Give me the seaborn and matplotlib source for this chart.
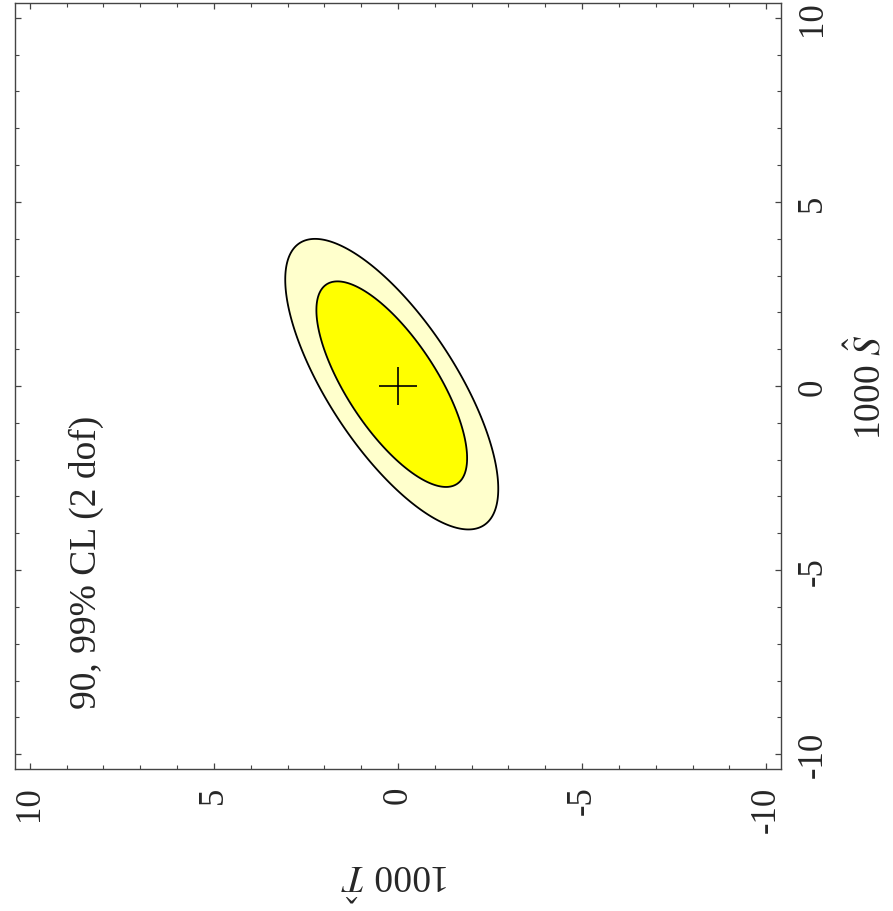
import numpy as np
import matplotlib
matplotlib.use("Agg")
import matplotlib.pyplot as plt
import seaborn as sns

# ---- data ----
dchi2_levels = [4.61, 9.21]          # 90%, 99% CL for 2 dof
fill_colors = ["#FFFF00", "#FFFFCC"]
ellipse_center = [0.17, 0.05]        # [T, S] in units of 1e-3
ellipse_sigma = [0.953, 1.30]        # [sigma_T, sigma_S]
ellipse_rho = 0.72
best_fit = [0.0, 0.0]                # [T, S]
tick_values = [-10, -5, 0, 5, 10]
axis_limit = 10.4
annotation = "90, 99% CL (2 dof)"

sns.set_theme(style="white")
plt.rcParams["font.family"] = ["Liberation Serif", "DejaVu Serif"]
plt.rcParams["mathtext.fontset"] = "stix"

fig = plt.figure(figsize=(8.93, 9.12), dpi=100)
ax = fig.add_axes([0.0168, 0.1557, 0.8578, 0.8399])

# grid in (T, S); displayed rotated: T on horizontal (reversed), S vertical
T = np.linspace(-axis_limit, axis_limit, 801)
S = np.linspace(-axis_limit, axis_limit, 801)
TT, SS = np.meshgrid(T, S)
dT = (TT - ellipse_center[0]) / ellipse_sigma[0]
dS = (SS - ellipse_center[1]) / ellipse_sigma[1]
chi2 = (dT**2 + dS**2 - 2 * ellipse_rho * dT * dS) / (1 - ellipse_rho**2)

ax.contourf(TT, SS, chi2, levels=[0] + dchi2_levels, colors=fill_colors)
ax.contour(TT, SS, chi2, levels=dchi2_levels, colors="black", linewidths=1.3)

sns.scatterplot(x=[best_fit[0]], y=[best_fit[1]], marker="+", s=27**2,
                color="black", linewidth=1.2, ax=ax, legend=False, zorder=5)

ax.set_xlim(axis_limit, -axis_limit)
ax.set_ylim(-axis_limit, axis_limit)

ax.set_xticks(tick_values)
ax.set_yticks(tick_values)
ax.set_xticks(np.arange(-10, 11, 1), minor=True)
ax.set_yticks(np.arange(-10, 11, 1), minor=True)
ax.set_xticklabels([str(v) for v in tick_values], rotation=90, fontsize=25)
ax.set_yticklabels([str(v) for v in tick_values], rotation=90, fontsize=25,
                   va="center")

ax.tick_params(which="both", direction="in", top=True, bottom=True, left=True, right=True,
               labelleft=False, labelright=True, labeltop=False, labelbottom=True,
               color="#444444")
ax.tick_params(which="major", length=4.5, width=0.9)
ax.tick_params(which="minor", length=3.0, width=0.8)
ax.tick_params(axis="y", which="major", pad=11)
ax.tick_params(axis="x", which="major", pad=12)

for sp in ax.spines.values():
    sp.set_color("#444444")
    sp.set_linewidth(1.0)
    sp.set_visible(True)

ax.set_xlabel(r"1000 $\hat{T}$", fontsize=27, rotation=180, va="center", ha="center")
ax.xaxis.set_label_coords(0.496, -0.138)
ax.yaxis.set_label_position("right")
ax.set_ylabel(r"1000 $\hat{S}$", fontsize=27, rotation=90, va="center", ha="center")
ax.yaxis.set_label_coords(1.1136, 0.5)

ax.text(8.45, -4.76, annotation, rotation=90, ha="center", va="center", fontsize=27)

ax.grid(False)
fig.savefig("out.png", dpi=100)
